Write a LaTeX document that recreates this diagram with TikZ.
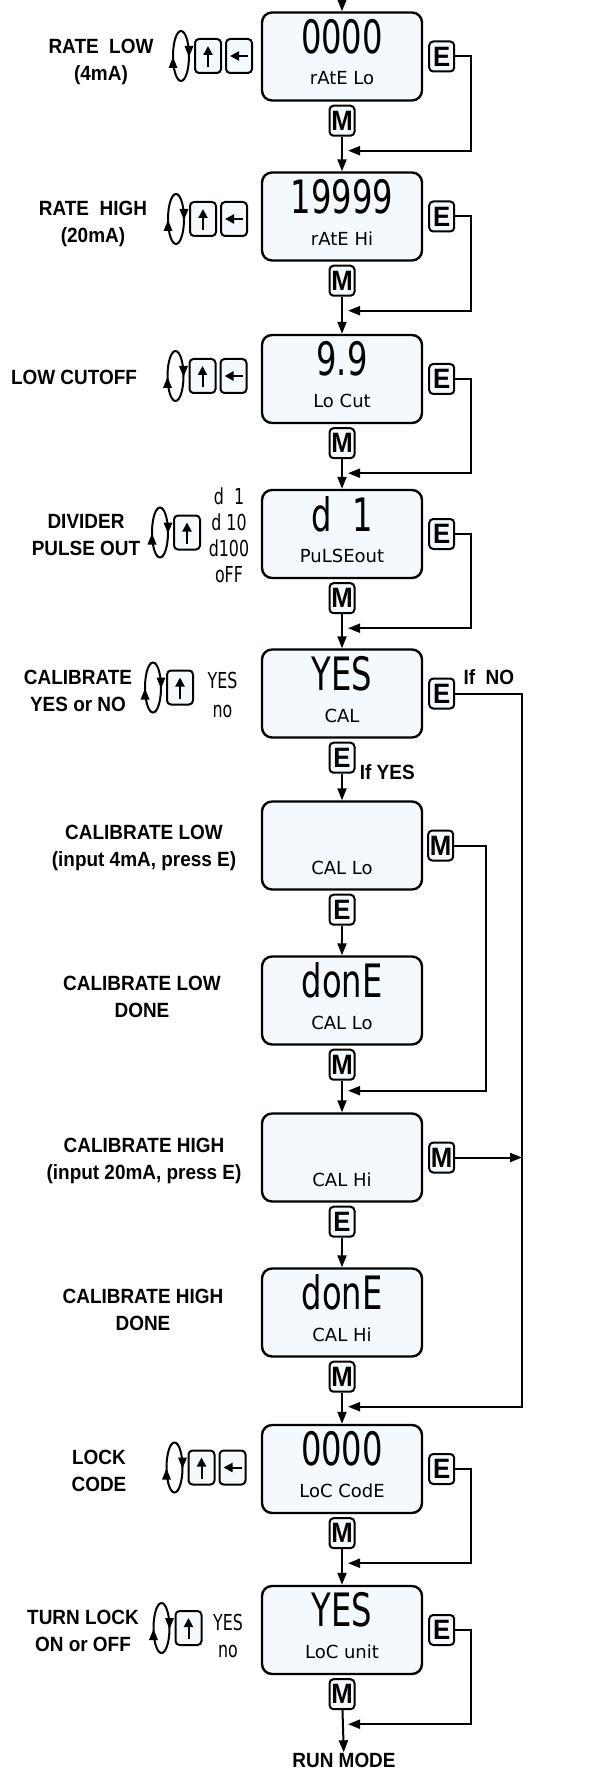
\documentclass[tikz,border=0pt]{standalone}
\usepackage{fontspec}
\setmainfont{Liberation Sans}[FakeStretch=0.92]
\newfontfamily\segfont{DejaVu Sans}[FakeStretch=0.72]
\newfontfamily\segbig{DejaVu Sans}[FakeStretch=0.7]
\newfontfamily\segsmall{DejaVu Sans}
\usetikzlibrary{positioning,arrows.meta}
\definecolor{lcdbg}{RGB}{244,249,254}

\begin{document}
\begin{tikzpicture}[x=0.5pt,y=-0.5pt]
\tikzstyle{lcd}=[draw,line width=1.2pt,rounded corners=5pt,fill=lcdbg,minimum width=80pt,minimum height=44pt]
\tikzstyle{btn}=[draw,line width=1pt,rounded corners=2pt,fill=lcdbg,minimum width=12.5pt,minimum height=15pt,inner sep=0pt,font=\bfseries\fontsize{14}{14}\selectfont]
\tikzstyle{arrowkey}=[draw,line width=1pt,rounded corners=2pt,fill=lcdbg,minimum width=13pt,minimum height=17pt,inner sep=0pt]
\tikzstyle{lcdval}=[inner sep=0pt,font=\segbig\fontsize{23}{23}\selectfont]
\tikzstyle{msg}=[inner sep=0pt,font=\segsmall\fontsize{9}{9}\selectfont]
\tikzstyle{opts}=[inner sep=0pt,align=center,font=\segfont\fontsize{11}{13}\selectfont]
\tikzstyle{lbl}=[inner sep=0pt,align=center,font=\bfseries\fontsize{10.3}{13.5}\selectfont]
\tikzstyle{flow}=[line width=1pt,-{Triangle[length=6pt,width=4.5pt]}]
\tikzstyle{keyarrow}=[line width=1pt,-{Triangle[length=4.5pt,width=4.5pt]}]

\fill[white] (0,0) rectangle (605,1775);
\useasboundingbox (0,0) rectangle (605,1775);

% displays
\foreach \n/\y/\val/\txt in {1/56.5/0000/rAtE Lo, 2/216.5/19999/rAtE Hi, 3/379/9.9/Lo Cut,
  4/534/d~~1/PuLSEout, 5/693.5/YES/CAL, 6/845.5//CAL Lo, 7/1000.5/donE/CAL Lo,
  8/1157.5//CAL Hi, 9/1312.5/donE/CAL Hi, 10/1469/0000/LoC CodE, 11/1630/YES/LoC unit}
{
  \node[lcd] (d\n) at (342,\y) {};
  \node[lcdval] (v\n) at ([yshift=10pt]d\n.center) {\val};
  \node[msg] (t\n) at ([yshift=-11pt]d\n.center) {\txt};
}

% keys
\foreach \n in {1,2,3,4,5,10,11} \node[btn,right=2.5pt of d\n] (ek\n) {E};
\foreach \n in {1,2,3,4,7,9,10,11} \node[btn,below=1.5pt of d\n] (mk\n) {M};
\node[btn,below=1.5pt of d5] (yk5) {E};
\node[btn,right=2pt of d6] (mk6) {M};
\node[btn,below=1.5pt of d6] (ek6) {E};
\node[btn,right=2.5pt of d8] (mk8) {M};
\node[btn,below=1.5pt of d8] (ek8) {E};

\foreach \n/\x/\y in {1/181/56,2/176/219,3/175.5/376,4/160/532.5,5/153/687.5,10/174.5/1467.5,11/161.5/1628}
{
  \draw[line width=1pt] (\x,\y) ellipse [x radius=4pt,y radius=12.5pt];
  \fill (\x+8,\y+1) -- (\x+3.5,\y-10) -- (\x+12.5,\y-10) -- cycle;
  \fill (\x-8,\y+1) -- (\x-12.5,\y+12) -- (\x-3.5,\y+12) -- cycle;
  \node[arrowkey] (up\n) at (\x+27,\y) {};
  \draw[keyarrow] ([yshift=-5.5pt]up\n.center) -- ([yshift=5pt]up\n.center);
}
\foreach \n in {1,2,3,10}
{
  \node[arrowkey,right=1.5pt of up\n] (lk\n) {};
  \draw[keyarrow] ([xshift=4.5pt]lk\n.center) -- ([xshift=-4.5pt]lk\n.center);
}

\node[opts] (o4) at (229,535) {d~~1\\d~10\\d100\\oFF};
\node[opts,font=\segfont\fontsize{11}{14.5}\selectfont] (o5) at (222.5,695) {YES\\no};
\node[opts,font=\segfont\fontsize{11}{13.5}\selectfont] (o11) at (228,1636) {YES\\no};

% labels
\node[lbl] (l1) at (101,62) {RATE\ \ LOW\\(4mA)};
\node[lbl] (l2) at (93,224) {RATE\ \ HIGH\\(20mA)};
\node[lbl] (l3) at (74,377) {LOW CUTOFF};
\node[lbl] (l4) at (86,535) {DIVIDER\\PULSE OUT};
\node[lbl] (l5) at (78,691) {CALIBRATE\\YES or NO};
\node[lbl] (l6) at (144,848) {CALIBRATE LOW\\(input 4mA, press E)};
\node[lbl] (l7) at (142,997) {CALIBRATE LOW\\DONE};
\node[lbl] (l8) at (144,1161) {CALIBRATE HIGH\\(input 20mA, press E)};
\node[lbl] (l9) at (143,1310) {CALIBRATE HIGH\\DONE};
\node[lbl] (l10) at (99,1471) {LOCK\\CODE};
\node[lbl] (l11) at (83,1631) {TURN LOCK\\ON or OFF};
\node[lbl,anchor=west] (ifno) at ([xshift=4pt,yshift=8pt]ek5.east) {If\ \ NO};
\node[lbl,anchor=west] (ifyes) at ([xshift=2pt,yshift=-7pt]yk5.east) {If\ YES};
\node[lbl] (run) at (344,1760) {RUN MODE};

% connectors
\coordinate (top) at (342,0);
\coordinate (nox) at (522,700);
\draw[flow] (top) -- (d1);
\foreach \a/\b in {1/2,2/3,3/4,4/5,7/8,9/10,10/11} \draw[flow] (mk\a) -- (d\b);
\draw[flow] (yk5) -- (d6);
\draw[flow] (ek6) -- (d7);
\draw[flow] (ek8) -- (d9);
\draw[flow] (mk11) -- (run);
\foreach \n in {1,2,3,4,10,11}
{
  \coordinate (r\n) at ([yshift=-7pt]mk\n.south);
  \draw[flow] (ek\n.east) -- ++(8pt,0) |- ([xshift=3pt]r\n);
}
\coordinate (r7) at ([yshift=-5pt]mk7.south);
\draw[flow] (mk6.east) -- ++(16pt,0) |- ([xshift=3pt]r7);
\coordinate (r9) at ([yshift=-7pt]mk9.south);
\draw[flow] (ek5.east) -- (ek5.east -| nox) |- ([xshift=3pt]r9);
\draw[flow] (mk8.east) -- (mk8.east -| nox);
\end{tikzpicture}
\end{document}
